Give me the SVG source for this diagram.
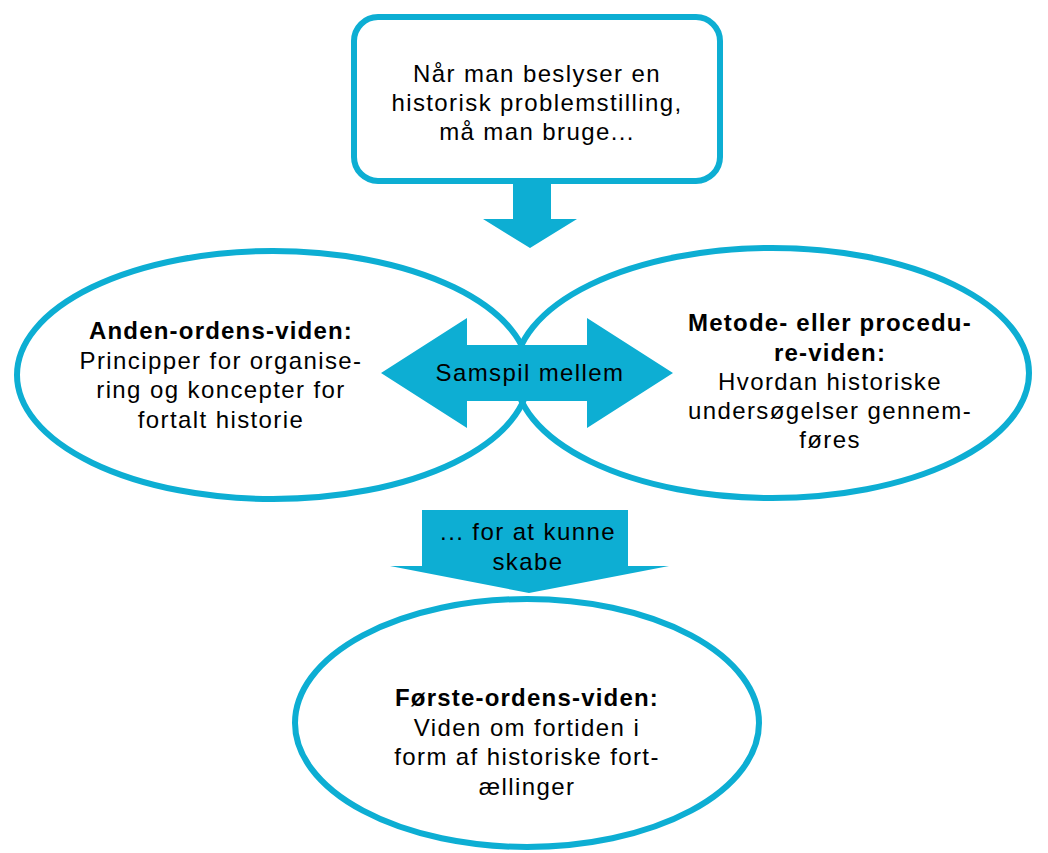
<svg xmlns="http://www.w3.org/2000/svg" width="1048" height="853" viewBox="0 0 1048 853">
<style>
.shape{fill:none;stroke:#0DAED3;stroke-width:6}
.arrow{fill:#0DAED3;stroke:none}
text{font-family:"Liberation Sans",Arial,sans-serif;font-size:24px;letter-spacing:1.4px;fill:#000;text-anchor:middle}
.b{font-weight:bold;letter-spacing:1.2px}
</style>
<rect width="1048" height="853" fill="#fff"/>
<g id="top-box">
<rect class="shape" x="354" y="17" width="366" height="164" rx="24"/>
<text x="537" y="82">Når man beslyser en</text>
<text x="537" y="111">historisk problemstilling,</text>
<text x="537" y="140">må man bruge...</text>
</g>
<g id="left-ellipse">
<ellipse class="shape" cx="273" cy="375" rx="256" ry="124"/>
<text x="221" y="339" class="b">Anden-ordens-viden:</text>
<text x="221" y="369">Principper for organise-</text>
<text x="221" y="398">ring og koncepter for</text>
<text x="221" y="428">fortalt historie</text>
</g>
<g id="right-ellipse">
<ellipse class="shape" cx="772" cy="373" rx="257" ry="125"/>
<text x="830" y="331" class="b">Metode- eller procedu-</text>
<text x="830" y="361" class="b">re-viden:</text>
<text x="830" y="390">Hvordan historiske</text>
<text x="830" y="419">undersøgelser gennem-</text>
<text x="830" y="448">føres</text>
</g>
<g id="bottom-ellipse">
<ellipse class="shape" cx="527" cy="723" rx="232" ry="124"/>
<text x="527" y="706" class="b">Første-ordens-viden:</text>
<text x="527" y="736">Viden om fortiden i</text>
<text x="527" y="765">form af historiske fort-</text>
<text x="527" y="795">ællinger</text>
</g>
<g id="connectors">
<polygon class="arrow" points="513,182 551,182 551,219 577,219 530,248 483,219 513,219"/>
<g id="samspil">
<polygon class="arrow" points="381,373 467,318 467,345 587,345 587,318 673,373 587,428 587,401 467,401 467,428"/>
<text x="530" y="381">Samspil mellem</text>
</g>
<g id="skabe">
<polygon class="arrow" points="422,510 628,510 628,566 669,566 529,593 390,566 422,566"/>
<text x="528" y="540">... for at kunne</text>
<text x="528" y="570">skabe</text>
</g>
</g>
</svg>
